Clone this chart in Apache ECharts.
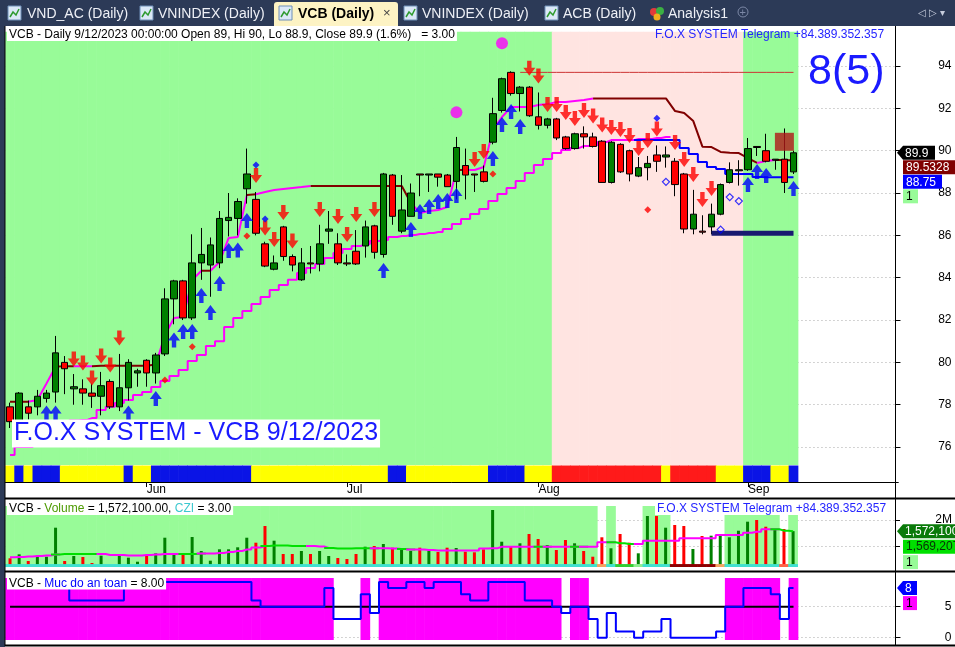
<!DOCTYPE html>
<html><head><meta charset="utf-8">
<script src="https://cdn.jsdelivr.net/npm/echarts@6/dist/echarts.min.js"></script>
<style>html,body{margin:0;padding:0;background:#fff;overflow:hidden}#c{width:955px;height:647px}</style>
</head><body><div id="c"></div>
<script>
const FONT = "'Liberation Sans', Arial, Helvetica, sans-serif";

// ---------- DATA ----------
const dates = ['5/11','5/12','5/15','5/16','5/17','5/18','5/19','5/22','5/23','5/24','5/25','5/26','5/29','5/30','5/31',
 '6/1','6/2','6/5','6/6','6/7','6/8','6/9','6/12','6/13','6/14','6/15','6/16','6/19','6/20','6/21','6/22','6/23','6/26','6/27','6/28','6/29','6/30',
 '7/3','7/4','7/5','7/6','7/7','7/10','7/11','7/12','7/13','7/14','7/17','7/18','7/19','7/20','7/21','7/24','7/25','7/26','7/27','7/28','7/31',
 '8/1','8/2','8/3','8/4','8/7','8/8','8/9','8/10','8/11','8/14','8/15','8/16','8/17','8/18','8/21','8/22','8/23','8/24','8/25','8/28','8/29','8/30','8/31',
 '9/5','9/6','9/7','9/8','9/11','9/12'];
const monthNames = {'5':'May','6':'Jun','7':'Jul','8':'Aug','9':'Sep'};
const blankSlots = 11;

const opens  = [77.9,77.2,77.9,77.9,78.3,78.6,80.0,78.75,78.75,78.55, 78.4,79.1,77.9,78.8,79.5,80.1,79.5,80.4,83.0,83.85, 82.1,84.7,84.6,84.7,86.7,86.8,88.2,87.7,85.6,84.4, 86.4,85.0,83.9,84.7,84.65,86.2,85.6,84.7,85.25,85.5, 86.45,85.1,88.85,86.2,86.9,88.9,88.85,88.9,88.85,88.55, 89.3,88.9,89.0,90.4,91.9,93.7,92.7,93.0,91.6,91.2, 91.5,90.65,90.1,90.8,90.65,90.45,88.5,90.3,90.0,88.8, 89.2,89.8,89.7,89.5,88.9,86.3,86.2,86.4,87.0,88.5, 89.05,89.1,90.2,90.0,89.55,89.6,89.0];
const closes = [77.2,78.55,77.6,78.4,78.55,80.45,79.7,78.85,78.55,78.4, 78.9,77.9,78.8,80.0,79.6,79.5,80.35,83.0,83.85,82.1, 84.7,85.1,85.55,86.8,86.85,87.6,88.9,86.1,84.55,84.7, 85.0,84.6,84.7,84.65,85.6,86.3,84.7,84.65,84.65,86.4, 85.2,88.9,86.9,87.2,88.0,88.85,88.9,88.75,88.3,90.15, 88.85,88.85,88.55,91.75,93.4,92.7,93.0,91.65,91.2,91.5, 90.6,90.1,90.8,90.65,90.2,88.5,90.4,89.0,88.9,89.2, 89.4,89.5,89.8,88.4,86.3,87.0,86.15,87.0,88.4,89.1, 89.1,90.1,90.15,89.5,89.6,88.5,89.9];
const highs  = [78.1,78.6,78.2,78.7,78.7,81.25,80.3,79.45,79.2,79.0, 79.55,79.2,80.4,80.15,79.7,80.15,80.45,83.5,83.9,83.9, 86.05,86.35,85.9,87.15,88.0,87.75,90.1,88.05,85.7,85.05, 86.45,85.1,85.4,85.5,86.5,87.15,86.1,85.1,86.25,86.7, 86.5,88.95,88.9,88.85,88.45,88.9,88.9,88.9,88.9,90.65, 90.1,88.9,89.3,92.5,93.45,93.75,93.05,93.05,92.75,91.55, 91.55,90.7,90.85,91.15,90.85,90.5,90.45,90.35,90.05,89.7, 89.75,90.25,90.2,89.65,88.95,88.15,86.95,87.5,88.45,89.45, 89.55,90.6,90.2,90.8,89.6,91.05,90.0];
const lows   = [76.9,77.0,77.3,77.5,78.1,78.1,78.5,78.0,78.0,77.85, 77.5,77.8,77.7,78.2,78.85,78.85,79.0,80.3,81.8,82.0, 82.0,83.9,83.1,84.45,85.95,86.0,87.5,86.0,84.5,84.35, 84.8,84.3,83.85,84.2,84.3,85.6,84.6,84.55,84.6,84.95, 84.9,84.95,86.5,86.1,86.9,87.85,88.05,88.3,88.3,87.7, 87.7,88.05,88.5,90.3,91.8,92.6,91.85,91.6,91.0,91.05, 90.5,90.05,90.05,90.1,90.15,88.5,88.45,88.95,88.55,88.75, 88.6,89.0,89.2,87.85,86.1,86.05,86.05,86.05,86.95,88.45, 88.35,89.05,89.75,89.45,89.1,88.0,88.9];

// trailing lines
const upperLine = [78.14,78.14,78.14,78.22,79.0,79.8,79.82,79.82,79.82,79.82, 79.84,79.84,79.84,79.84,79.84,79.84,79.9,81.29,82.1,82.14, 83.89,84.33,84.33,84.74,85.88,85.92,87.91,87.94,88.05,88.14, 88.19,88.24,88.28,88.33,88.33,88.33,88.33,88.33,88.33,88.33, 88.33,88.33,88.33,88.33,87.53,87.06,87.15,87.2,87.34,89.09, 89.09,89.09,89.23,90.98,91.59,92.06,92.06,92.06,92.16,92.2, 92.3,92.3,92.35,92.39,92.47,92.47,92.47,92.47,92.47,92.47, 92.47,92.47,92.47,91.87,91.78,91.4,90.19,90.17,89.94,89.9, 89.89,89.65,89.42,89.51,89.56,89.56,89.5328];
const upperState = [1,1,1,0,0,0,1,1,0,0, 1,1,1,1,1,1,1,0,0,0, 0,0,1,0,0,0,0,1,0,0, 0,0,0,0,1,1,1,1,1,1, 1,1,1,1,1,0,0,0,0,0, 1,0,0,0,0,0,0,0,0,0, 0,0,0,0,0,1,1,1,1,1, 1,1,1,1,1,1,1,1,1,1, 1,1,1,0,0,1,1];
const lowerLine = [75.63,76.0,76.0,76.3,76.5,76.8,77.1,77.25,77.28,77.37, 77.75,77.9,78.08,78.22,78.46,78.6,78.84,79.12,79.36,79.64, 80.07,80.35,80.77,81.0,81.67,82.1,82.43,82.76,83.09,83.42, 83.66,83.9,84.22,84.46,84.65,84.93,85.17,85.36,85.5,85.59, 85.73,85.78,85.92,85.97,86.02,86.06,86.11,86.16,86.3,86.54, 86.77,87.01,87.25,87.62,87.95,88.24,88.57,88.95,89.32,89.61, 89.89,90.03,90.13,90.22,90.27,90.41,90.5,90.5,90.5,90.55, 90.55,90.6,90.65];
const blueStart = 69;
const blueLine = [90.5,90.5,90.5,90.5,90.5,90.13,89.84,89.47,89.23,89.13,88.9,88.9,88.9,88.76,88.75,88.75,88.75,88.75];
const peakLevel = 93.7, peakFrom = 56;
const floorLevel = 86.1, floorFrom = 77;

// signals [barIndex, price]
const sellArrows = [[7,80.16],[8,79.97],[9,79.26],[10,80.3],[11,79.88],[12,81.15],[27,88.83],[28,86.35],[29,85.8],[30,87.08],[31,85.73],[34,87.22],[36,86.89],[37,86.04],[38,86.98],[40,87.22],[51,89.58],[52,89.96],[57,93.9],[58,93.53],[59,92.18],[60,92.18],[61,91.8],[62,91.52],[63,91.9],[64,91.64],[65,91.21],[66,91.1],[67,91.0],[68,90.72],[69,90.1],[70,90.48],[71,91.02],[73,90.39],[74,89.58],[75,88.87],[76,87.69],[77,88.21]];
const buyArrows = [[4,77.61],[5,77.61],[13,77.61],[16,78.29],[18,81.06],[19,81.46],[20,81.46],[21,83.16],[22,82.36],[23,83.73],[24,85.28],[25,85.31],[26,86.7],[41,84.34],[44,86.28],[45,87.13],[46,87.36],[47,87.6],[48,87.65],[49,87.88],[53,89.63],[54,91.24],[55,91.85],[56,91.14],[81,88.4],[82,89.02],[83,88.83],[86,88.21]];
const hollowDiamonds = [[72,88.53],[78,86.27],[79,87.81],[80,87.62]];
const blueDiamonds = [[27,89.32],[28,86.77],[71,91.53]];
const redDiamonds = [[17,79.17],[20,80.74],[26,85.97],[53,88.9],[70,87.21]];
const magentaDots = [[49,91.81],[54,95.07]];
const redBox = [[85,90.42]];

// background states: 1 green, 2 pink
const mainBg = [1,1,1,1,1,1,1,1,1,1, 1,1,1,1,1,1,1,1,1,1, 1,1,1,1,1,1,1,1,1,1, 1,1,1,1,1,1,1,1,1,1, 1,1,1,1,1,1,1,1,1,1, 1,1,1,1,1,1,1,1,1,1, 2,2,2,2,2,2,2,2,2,2, 2,2,2,2,2,2,2,2,2,2, 2,1,1,1,1,1,1];
// ribbon: 0 yellow, 1 blue, 2 red
const ribbon = [0,1,0,1,1,1,0,0,0,0, 0,0,0,1,0,0,1,1,1,1, 1,1,1,1,1,1,1,0,0,0, 0,0,0,0,0,0,0,0,0,0, 0,0,1,1,0,0,0,0,0,0, 0,0,0,1,1,1,1,0,0,0, 2,2,2,2,2,2,2,2,2,2, 2,2,0,2,2,2,2,2,0,0, 0,1,1,1,0,0,1];

// volume (millions)
const volumes = [0.527,0.68,0.423,0.627,0.588,1.704,0.423,0.615,0.577,0.346, 0.627,0.27,0.68,0.55,0.396,0.627,0.719,1.319,0.68,0.719, 1.346,0.808,0.435,0.873,0.873,0.95,1.319,1.127,1.769,1.204, 0.692,0.692,0.808,0.692,0.808,0.615,0.538,0.5,0.692,0.973, 1.0,1.077,0.935,0.873,0.808,0.935,0.819,0.769,0.935,0.923, 0.781,0.758,0.873,2.385,1.165,0.973,1.104,1.462,1.269,1.038, 0.846,1.231,1.104,0.808,0.588,1.335,0.912,1.462,1.127,0.719, 2.154,2.154,1.704,1.808,1.769,0.885,1.385,1.396,1.396,1.335, 1.588,1.935,2.0,1.742,1.615,1.654,1.5721];
const volAvg = [0.565,0.577,0.6,0.615,0.635,0.673,0.692,0.692,0.692,0.692, 0.692,0.654,0.654,0.635,0.635,0.654,0.673,0.692,0.692,0.692, 0.692,0.712,0.712,0.731,0.769,0.808,0.865,0.942,1.0,1.019, 1.019,1.0,1.0,1.0,0.981,0.923,0.904,0.904,0.91,0.91, 0.91,0.91,0.904,0.885,0.865,0.865,0.846,0.827,0.827,0.827, 0.827,0.827,0.904,0.91,0.973,0.973,0.973,0.973,0.973,0.973, 0.973,0.973,0.973,0.973,0.973,1.142,1.142,1.104,1.077,1.077, 1.204,1.204,1.204,1.204,1.296,1.296,1.296,1.296,1.423,1.423, 1.423,1.512,1.55,1.642,1.642,1.59,1.569207];
const volAvgState = [0,0,0,0,0,0,1,1,1,1, 1,0,0,0,0,0,0,0,0,0, 1,1,0,0,0,0,0,0,0,1, 1,1,1,1,0,0,1,1,1,1, 1,0,0,0,1,0,0,0,0,0, 0,0,0,0,0,0,0,0,0,1, 0,0,0,1,0,0,0,1,1,1, 0,0,0,0,0,0,0,0,0,0, 0,0,0,0,0,1,1];
const volBg = [1,1,1,1,1,1,1,1,1,1, 1,1,1,1,1,1,1,1,1,1, 1,1,1,1,1,1,1,1,1,1, 1,1,1,1,1,1,1,1,1,1, 1,1,1,1,1,1,1,1,1,1, 1,1,1,1,1,1,1,1,1,1, 1,1,1,1,1,0,1,0,0,0, 1,1,1,0,0,0,0,0,0,1, 1,1,1,1,1,0,1];
// 0 turquoise,1 sandy,2 lime,3 light green,4 dark red,5 tomato
const volRibbon = [0,0,0,0,0,0,0,0,0,0, 0,0,0,0,0,0,0,0,0,0, 0,0,0,0,0,0,0,0,0,0, 0,0,0,0,0,0,0,0,0,0, 0,0,0,0,0,0,0,0,0,0, 0,0,0,0,0,0,0,0,0,0, 0,0,0,0,0,1,0,2,2,3, 0,0,0,4,4,4,4,4,1,0, 0,0,0,0,0,5,0];

// safety level
const safety = [9,9,9,9,9,9,9, 6,6,6,6,6,6, 9,9,9,9,9,9,9,9,9,9,9,9,9,9, 6, 5,5,5,5,5,5,5, 8, 3,3,3, 7, 4, 9, 8,8, 9,9, 8, 9,9,9, 7, 6, 6, 9,9,9,9, 6,6,6, 5, 4, 5,5, 3, 0, 4, 1,1, 0, 1,1, 3, 0,0,0,0,0, 1, 5,5, 8,8,8, 7, 3, 8];
const safetyThreshold = 5;

const priceTicks = [76,78,80,82,84,86,88,90,92,94];

// ---------- BUILD ----------
const N = dates.length;
const cats = dates.concat(Array.from({length: blankSlots}, (_, k) => 'pad' + k));
const monthStart = new Set();
dates.forEach((d, i) => { if (i > 0 && d.split('/')[0] !== dates[i-1].split('/')[0]) monthStart.add(i); });
const isMonth = (idx) => monthStart.has(idx);

const G = 0; // grid indices
function bandSeries(grid, codes, colors, vTop, vBot, z) {
  return {
    type: 'custom', xAxisIndex: grid, yAxisIndex: grid, z: z || 1, silent: true, animation: false,
    data: codes.map((c, i) => [i, c]),
    renderItem(params, api) {
      const i = api.value(0), col = colors[api.value(1)];
      if (!col) return null;
      const a = api.coord([i, vTop]), b = api.coord([i, vBot]);
      const w = api.size([1, 0])[0];
      return {type: 'rect', shape: {x: a[0] - w / 2 - 0.3, y: a[1], width: w + 0.6, height: b[1] - a[1]}, style: {fill: col}};
    }
  };
}
function segSeries(vals, states, colors, grid, width, z, step) {
  const out = [];
  let i = 1;
  while (i < vals.length) {
    if (vals[i] == null || vals[i-1] == null) { i++; continue; }
    const s = states[i]; let j = i;
    while (j + 1 < vals.length && states[j+1] === s && vals[j+1] != null) j++;
    const data = vals.map((v, k) => (k >= i - 1 && k <= j) ? v : null);
    out.push({type: 'line', xAxisIndex: grid, yAxisIndex: grid, data, symbol: 'none', step: step || false,
      lineStyle: {color: colors[s], width}, z, silent: true, animation: false, connectNulls: false});
    i = j + 1;
  }
  return out;
}
function lineSeries(data, color, width, grid, z, step) {
  return {type: 'line', xAxisIndex: grid, yAxisIndex: grid, data, symbol: 'none', step: step || false,
    lineStyle: {color, width}, z, silent: true, animation: false, connectNulls: false};
}
const UP_ARROW = 'path://M6,0 L12,8 L8.2,8 L8.2,15 L3.8,15 L3.8,8 L0,8 Z';
const DOWN_ARROW = 'path://M3.8,0 L8.2,0 L8.2,7 L12,7 L6,15 L0,7 L3.8,7 Z';
function scatter(data, symbol, size, style, grid, z) {
  return {type: 'scatter', xAxisIndex: grid, yAxisIndex: grid, data, symbol, symbolSize: size,
    itemStyle: style, z, silent: true, animation: false};
}

const padNull = (arr) => arr.concat(Array(N - arr.length).fill(null));
const blueFull = Array(blueStart).fill(null).concat(blueLine);
const peakArr = dates.map((d, i) => i >= peakFrom ? peakLevel : null);
const floorArr = dates.map((d, i) => i >= floorFrom ? floorLevel : null);
const thresholdArr = dates.map(() => safetyThreshold);
const safetyFill = safety.map(v => v >= safetyThreshold ? 1 : 0);

const series = [
  bandSeries(0, mainBg, {1: '#98fb98', 2: '#ffe4e1'}, 95.62, 75.15, 1),
  bandSeries(0, ribbon, {0: '#ffff00', 1: '#0a14e6', 2: '#ff1a1a'}, 75.13, 74.35, 1),
  lineSeries(peakArr, '#cc3333', 1, 0, 2),
  lineSeries(padNull(lowerLine), '#ff00ff', 2, 0, 2, 'middle'),
  lineSeries(blueFull, '#0000ff', 2, 0, 2.1, 'middle'),
  ...segSeries(upperLine, upperState, {0: '#ff00ff', 1: '#800000'}, 0, 2, 2.2),
  {
    type: 'candlestick', xAxisIndex: 0, yAxisIndex: 0, barWidth: 7, z: 3, silent: true, animation: false,
    data: dates.map((d, i) => [opens[i], closes[i], lows[i], highs[i]]),
    itemStyle: {color: '#008000', color0: '#ff0000', borderColor: '#000', borderColor0: '#000', borderColorDoji: '#000', borderWidth: 1}
  },
  lineSeries(floorArr, '#191970', 5, 0, 4),
  scatter(redBox, 'rect', [19, 18], {color: '#b01818'}, 0, 4),
  scatter(buyArrows, UP_ARROW, [12, 15], {color: '#0000ff'}, 0, 5),
  scatter(sellArrows, DOWN_ARROW, [12, 15], {color: '#ff0000'}, 0, 5),
  scatter(blueDiamonds, 'diamond', [7, 7], {color: '#0000ff'}, 0, 5),
  scatter(hollowDiamonds, 'diamond', [7, 7], {color: 'rgba(0,0,0,0)', borderColor: '#0000ff', borderWidth: 1.2}, 0, 5),
  scatter(redDiamonds, 'diamond', [7, 7], {color: '#ff0000'}, 0, 5),
  scatter(magentaDots, 'circle', 12, {color: '#ff00ff'}, 0, 5),
  // volume
  bandSeries(1, volBg, {1: '#98fb98'}, 2.538, 0.1923, 1),
  {
    type: 'bar', xAxisIndex: 1, yAxisIndex: 1, barWidth: 3, z: 2, clip: true, silent: true, animation: false,
    data: volumes.map((v, i) => ({value: v, itemStyle: {color: closes[i] >= opens[i] ? '#008000' : '#ff0000'}}))
  },
  bandSeries(1, volRibbon, {0: '#40e0d0', 1: '#f4a460', 2: '#32cd32', 3: '#90ee90', 4: '#8b0000', 5: '#ff6347'}, 0.305, 0.1923, 2.5),
  ...segSeries(volAvg, volAvgState, {0: '#ff00ff', 1: '#00e000'}, 1, 2, 3, 'middle'),
  // safety
  bandSeries(2, safetyFill, {1: '#ff00ff'}, 9.63, -0.37, 1),
  lineSeries(thresholdArr, '#000', 2, 2, 2),
  lineSeries(safety, '#0000ff', 2, 2, 3, 'middle')
];

const gridL = 5.48, gridW = 892.8, axOff = -2.8;
const xAxisBase = (gi) => ({type: 'category', gridIndex: gi, data: cats, boundaryGap: true});
const yBase = {type: 'value', position: 'right', offset: axOff,
  axisLine: {show: true, lineStyle: {color: '#000', width: 1}},
  splitLine: {show: true, lineStyle: {color: '#a8a8a8', type: [1, 3], width: 1}}};

const option = {
  animation: false,
  backgroundColor: '#fff',
  grid: [
    {left: gridL, top: 26, width: gridW, height: 456},
    {left: gridL, top: 499, width: gridW, height: 68},
    {left: gridL, top: 573, width: gridW, height: 72}
  ],
  xAxis: [
    Object.assign(xAxisBase(0), {
      axisLine: {show: true, onZero: false, lineStyle: {color: '#000'}},
      axisTick: {show: true, alignWithLabel: true, interval: isMonth, length: 5, lineStyle: {color: '#000'}},
      axisLabel: {interval: isMonth, formatter: (v) => monthNames[v.split('/')[0]] || '', align: 'left', margin: 2,
        color: '#000', fontSize: 12, fontFamily: FONT},
      splitLine: {show: false}
    }),
    Object.assign(xAxisBase(1), {show: false}),
    Object.assign(xAxisBase(2), {show: false})
  ],
  yAxis: [
    Object.assign({}, yBase, {gridIndex: 0, min: 74.35, max: 95.89,
      axisTick: {show: true, length: 5, customValues: priceTicks, lineStyle: {color: '#000'}},
      axisLabel: {customValues: priceTicks, color: '#000', fontSize: 12, fontFamily: FONT, margin: 56, align: 'right'}}),
    Object.assign({}, yBase, {gridIndex: 1, min: 0.1923, max: 2.8077,
      axisTick: {show: true, length: 5, customValues: [1, 2], lineStyle: {color: '#000'}},
      axisLabel: {customValues: [2], formatter: (v) => v + 'M', color: '#000', fontSize: 12, fontFamily: FONT, margin: 57, align: 'right'}}),
    Object.assign({}, yBase, {gridIndex: 2, min: -1.177, max: 10.435,
      axisTick: {show: true, length: 5, customValues: [0, 5], lineStyle: {color: '#000'}},
      axisLabel: {customValues: [0, 5], color: '#000', fontSize: 12, fontFamily: FONT, margin: 56, align: 'right'}})
  ],
  series
};

const chart = echarts.init(document.getElementById('c'), null, {renderer: 'canvas', width: 955, height: 647});
chart.setOption(option);

// ---------- OVERLAY TEXT / FRAME ----------
const Z = 60;
const T = (x, y, text, o) => ({type: 'text', x, y, z: Z, silent: true,
  style: Object.assign({text, fill: '#000', fontSize: 12, fontFamily: FONT, verticalAlign: 'middle', align: 'left'}, o || {})});
const R = (x, y, w, h, fill, o) => ({type: 'rect', z: Z, silent: true, shape: {x, y, width: w, height: h}, style: Object.assign({fill}, o || {})});
const L = (x1, y1, x2, y2, stroke, w) => ({type: 'line', z: Z, silent: true, shape: {x1, y1, x2, y2}, style: {stroke, lineWidth: w || 1}});
const P = (pts, fill) => ({type: 'polygon', z: Z, silent: true, shape: {points: pts}, style: {fill}});

const gfx = [];
// window frame
gfx.push(R(0, 0, 955, 26, '#2c3a57'));
gfx.push(R(0, 0, 5, 647, '#2c3a57'));
gfx.push(L(5, 26, 5, 646, '#000', 1));
// tabs
const icon = (x) => [R(x, 6, 13, 14, '#dbe8f7', {stroke: '#6f8fb8', lineWidth: 1}),
  {type: 'polyline', z: Z + 1, silent: true, shape: {points: [[x + 2, 17], [x + 5, 12], [x + 8, 15], [x + 11, 9]]}, style: {stroke: '#2e9a2e', lineWidth: 1.5, fill: null}}];
gfx.push({type: 'rect', z: Z, silent: true, shape: {x: 274, y: 2, width: 124, height: 24, r: [3, 3, 0, 0]}, style: {fill: '#fdf3c4'}});
[[8, 27, 'VND_AC (Daily)'], [140, 158, 'VNINDEX (Daily)'], [404, 422, 'VNINDEX (Daily)'], [545, 563, 'ACB (Daily)']].forEach(([ix, tx, s]) => {
  gfx.push(...icon(ix)); gfx.push(T(tx, 14, s, {fill: '#eef0f6', fontSize: 14}));
});
gfx.push(...icon(279));
gfx.push(T(298, 14, 'VCB (Daily)', {fontSize: 14, fontWeight: 'bold', fill: '#000'}));
gfx.push(T(383, 13, '×', {fontSize: 13, fill: '#444'}));
gfx.push({type: 'circle', z: Z, silent: true, shape: {cx: 654, cy: 12, r: 4}, style: {fill: '#e23b3b'}});
gfx.push({type: 'circle', z: Z, silent: true, shape: {cx: 660, cy: 11, r: 4}, style: {fill: '#3cb043'}});
gfx.push({type: 'circle', z: Z, silent: true, shape: {cx: 657, cy: 17, r: 3.5}, style: {fill: '#f2b01e'}});
gfx.push(T(668, 14, 'Analysis1', {fill: '#eef0f6', fontSize: 14}));
gfx.push({type: 'circle', z: Z, silent: true, shape: {cx: 743, cy: 12, r: 5}, style: {fill: null, stroke: '#7c88a6', lineWidth: 1}});
gfx.push(T(739.5, 12.5, '+', {fill: '#7c88a6', fontSize: 11}));
gfx.push(T(918, 13, '◁ ▷ ▾', {fill: '#c7cddd', fontSize: 10}));
// panel separators
gfx.push(L(5, 498.5, 955, 498.5, '#000', 2));
gfx.push(L(5, 571.5, 955, 571.5, '#000', 2));
gfx.push(L(5, 645.5, 955, 645.5, '#000', 2));
gfx.push(L(895.5, 26, 895.5, 646, '#000', 1));
// titles
gfx.push(T(7, 34.5, 'VCB - Daily 9/12/2023 00:00:00 Open 89, Hi 90, Lo 88.9, Close 89.9 (1.6%)   = 3.00', {backgroundColor: '#fff', padding: [1, 2, 0, 2]}));
gfx.push(T(655, 34.5, 'F.O.X SYSTEM Telegram +84.389.352.357', {fill: '#2424ff'}));
gfx.push(T(808, 72, '8(5)', {fill: '#1a1aff', fontSize: 43}));
gfx.push(T(12, 433.5, 'F.O.X SYSTEM - VCB 9/12/2023', {fill: '#1a1aff', fontSize: 25, backgroundColor: '#fff', padding: [2, 2, 1, 2]}));
gfx.push({type: 'text', x: 7, y: 508.5, z: Z, silent: true, style: {
  text: '{k|VCB - }{g|Volume}{k| = 1,572,100.00, }{c|CZI}{k| = 3.00}', verticalAlign: 'middle', backgroundColor: '#fff', padding: [1, 2, 0, 2],
  rich: {k: {fill: '#000', fontSize: 12, fontFamily: FONT}, g: {fill: '#4c9a00', fontSize: 12, fontFamily: FONT}, c: {fill: '#3cc8cf', fontSize: 12, fontFamily: FONT}}}});
gfx.push(T(655, 508.5, 'F.O.X SYSTEM Telegram +84.389.352.357', {fill: '#2424ff', backgroundColor: '#fff', padding: [1, 2, 0, 2]}));
gfx.push({type: 'text', x: 7, y: 583, z: Z, silent: true, style: {
  text: '{k|VCB - }{b|Muc do an toan}{k| = 8.00}', verticalAlign: 'middle', backgroundColor: '#fff', padding: [1, 2, 0, 2],
  rich: {k: {fill: '#000', fontSize: 12, fontFamily: FONT}, b: {fill: '#0000ff', fontSize: 12, fontFamily: FONT}}}});

// value tags on the right axis, anchored through the axes
const tag = (y, text, bg, fg, x0, x1, arrow) => {
  const out = [];
  if (arrow) out.push(P([[x0, y], [x0 + 6, y - 7], [x1, y - 7], [x1, y + 7], [x0 + 6, y + 7]], bg));
  else out.push(R(x0, y - 7, x1 - x0, 14, bg));
  out.push(T(x0 + (arrow ? 8 : 3), y + 0.5, text, {fill: fg}));
  return out;
};
const py0 = chart.convertToPixel({yAxisIndex: 0}, closes[N - 1]);
gfx.push(...tag(py0, String(closes[N - 1]), '#000', '#fff', 897, 935, true));
gfx.push(...tag(py0 + 14.5, String(upperLine[N - 1]), '#800000', '#fff', 903, 956, false));
gfx.push(...tag(py0 + 29, String(blueLine[blueLine.length - 1]), '#0000ff', '#fff', 903, 942, false));
gfx.push(...tag(py0 + 43.5, '1', '#98fb98', '#000', 903, 918, false));
const py1 = chart.convertToPixel({yAxisIndex: 1}, volumes[N - 1]);
gfx.push(...tag(py1, '1,572,100', '#0a7a0a', '#fff', 897, 956, true));
gfx.push(...tag(py1 + 15.5, '1,569,207', '#00e000', '#063006', 903, 956, false));
gfx.push(...tag(py1 + 31, '1', '#98fb98', '#000', 903, 918, false));
const py2 = chart.convertToPixel({yAxisIndex: 2}, safety[N - 1]);
gfx.push(...tag(py2, String(safety[N - 1]), '#0000ff', '#fff', 897, 917, true));
gfx.push(...tag(py2 + 15, '1', '#ff00ff', '#000', 903, 917, false));

chart.setOption({graphic: {elements: gfx}});
</script>
</body></html>
